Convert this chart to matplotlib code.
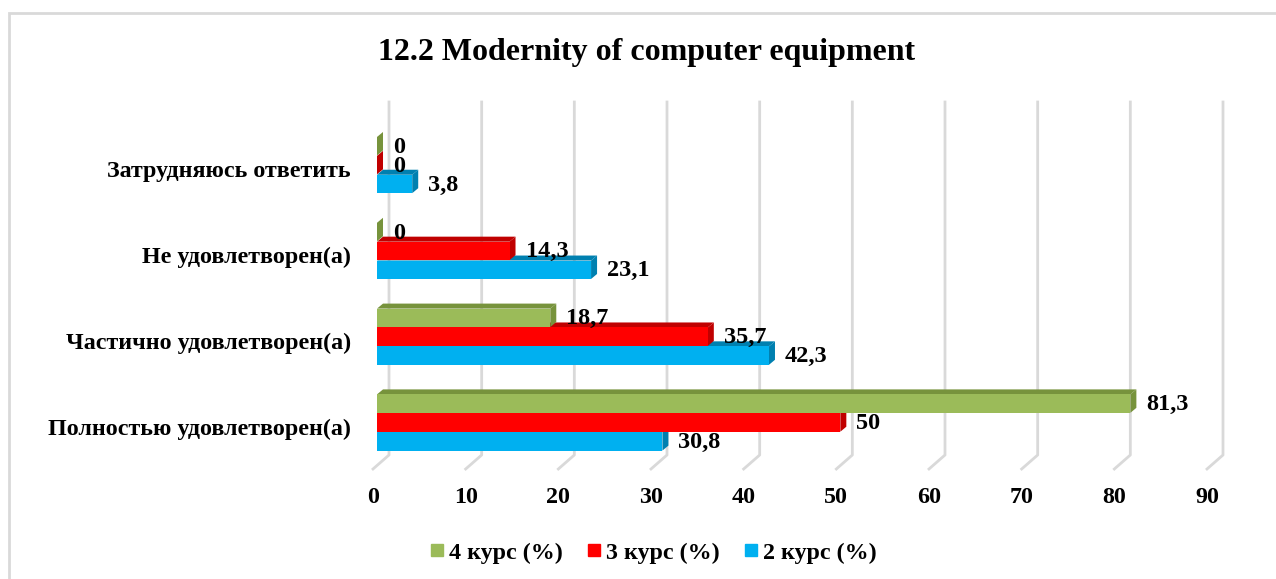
import numpy as np
import matplotlib.pyplot as plt
from matplotlib.patches import Polygon, Rectangle
from matplotlib.lines import Line2D
from matplotlib.transforms import ScaledTranslation

plt.rcParams['font.family'] = ['Liberation Serif', 'DejaVu Serif']
plt.rcParams['font.weight'] = 'bold'

categories = ['Полностью удовлетворен(а)', 'Частично удовлетворен(а)',
              'Не удовлетворен(а)', 'Затрудняюсь ответить']
series_names = ['4 курс (%)', '3 курс (%)', '2 курс (%)']
kurs4 = [81.3, 18.7, 0, 0]
kurs3 = [50, 35.7, 14.3, 0]
kurs2 = [30.8, 42.3, 23.1, 3.8]
xticks = [0, 10, 20, 30, 40, 50, 60, 70, 80, 90]

front = ['#9BBB59', '#FF0000', '#00B0F0']
dark = ['#77933C', '#C00000', '#0080B0']

W, H = 1276, 579
fig = plt.figure(figsize=(W / 100, H / 100), dpi=100)
ax = fig.add_axes([373 / W, (H - 469) / H, 834 / W, 353 / H])
xmin, xmax = 0, 90
ymin, ymax = -0.542, 3.572
ax.set_xlim(xmin, xmax)
ax.set_ylim(ymin, ymax)
for s in ax.spines.values():
    s.set_visible(False)

# pixel -> data helpers
px = (xmax - xmin) / 834
py = (ymax - ymin) / 353

# back-wall gridlines with floor diagonal
gdx, gdy = 16 * px, 14 * py
gtop = ymax + 14 * py
for t in xticks:
    ax.add_line(Line2D([t, t + gdx, t + gdx], [ymin, ymin + gdy, gtop],
                       color='#D9D9D9', lw=2, clip_on=False, zorder=1))

# 3d-ish bars: draw bottom series first so the upper ones cover it
bh = 0.215
shift = 4 * px
ddx, ddy = 6 * px, 5 * py
y = np.arange(len(categories))
series = [kurs4, kurs3, kurs2]
offsets = [0.22, 0.0, -0.22]
for k in [2, 1, 0]:
    for yi, v in zip(y, series[k]):
        yb = yi + offsets[k] - bh / 2
        yt = yb + bh
        x0 = shift
        x1 = v + shift
        ax.add_patch(Polygon([[x0, yt], [x1, yt], [x1 + ddx, yt + ddy], [x0 + ddx, yt + ddy]],
                             closed=True, fc=dark[k], ec='none', zorder=3))
        ax.add_patch(Polygon([[x1, yb], [x1 + ddx, yb + ddy], [x1 + ddx, yt + ddy], [x1, yt]],
                             closed=True, fc=dark[k], ec='none', zorder=3))
        ax.add_patch(Rectangle((x0, yb), v, bh, fc=front[k], ec='none', zorder=3))
        lab = ('%g' % v).replace('.', ',')
        ax.annotate(lab, (x1, yi + offsets[k]), xytext=(16, -1), textcoords='offset pixels',
                    ha='left', va='center', fontsize=17.5, fontweight='bold', zorder=5,
                    annotation_clip=False)

ax.set_yticks(y)
ax.set_yticklabels(categories, fontsize=17.3, fontweight='bold')
ax.tick_params(axis='y', length=0, pad=16)
for lbl in ax.get_yticklabels():
    lbl.set_transform(lbl.get_transform() + ScaledTranslation(0, -0.04, fig.dpi_scale_trans))
ax.set_xticks(xticks)
ax.set_xticklabels([str(t) for t in xticks], fontsize=17.3, fontweight='bold')
ax.tick_params(axis='x', length=0, pad=13)

fig.text(0.507, 0.91, '12.2 Modernity of computer equipment', ha='center', va='center',
         fontsize=23, fontweight='bold')

handles = [Line2D([], [], ls='none', marker='s', markersize=9, color=c) for c in front]
fig.legend(handles, series_names, loc='center', bbox_to_anchor=(0.512, 0.045), ncol=3,
           frameon=False, fontsize=17.3, handletextpad=0.2, columnspacing=1.0, handlelength=0.6)

# chart area border (left and top visible)
fig.add_artist(Rectangle((9 / W, -0.1), 1.2, (H - 13) / H + 0.1, transform=fig.transFigure,
                         fill=False, ec='#D9D9D9', lw=2))

fig.savefig('out.png', dpi=100)
